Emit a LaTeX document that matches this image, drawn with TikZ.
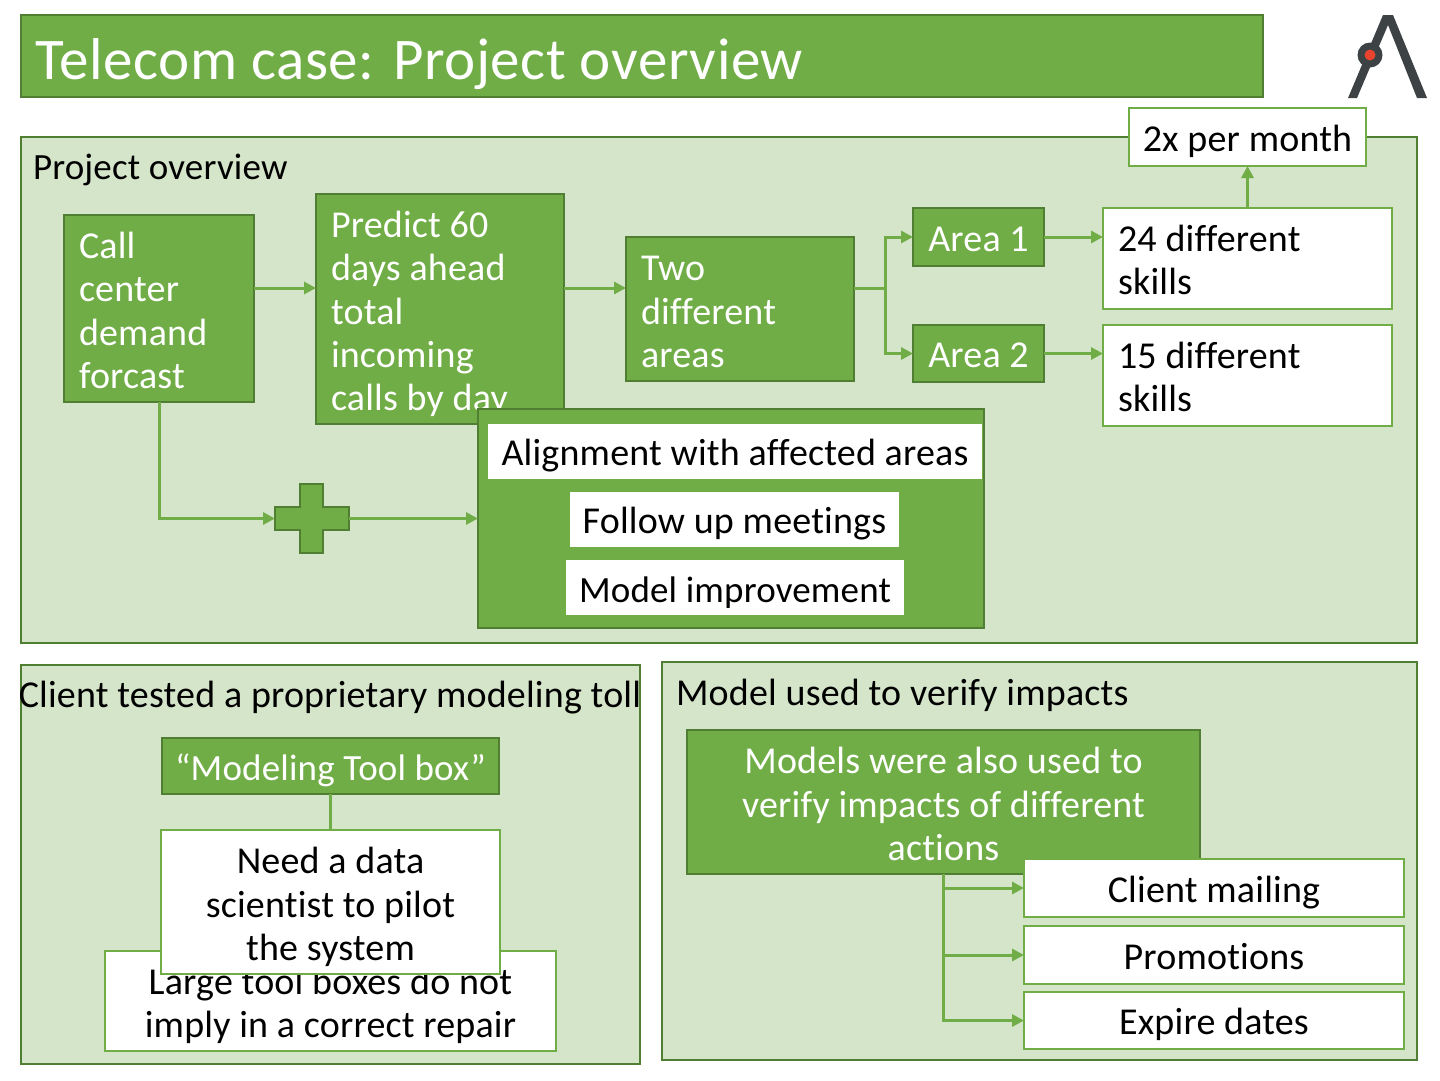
\documentclass[tikz,border=0pt]{standalone}
\usepackage{fontspec}
\setmainfont{Carlito}[LetterSpace=0.5,Ligatures=NoCommon]
\newfontfamily\titlefam{Carlito}[LetterSpace=1,Ligatures=NoCommon]
\usetikzlibrary{arrows.meta}
\definecolor{gfill}{HTML}{70AD47}
\definecolor{gedge}{HTML}{507E32}
\definecolor{pfill}{HTML}{D4E5C9}
\definecolor{arrowc}{HTML}{70AD47}
\definecolor{logoc}{HTML}{3D4245}
\definecolor{logor}{HTML}{E8432E}
\newcommand{\bodyfont}{\fontsize{38}{43.3}\selectfont}
\newcommand{\tighter}{\fontsize{37}{43.3}\selectfont}
\newcommand{\titlefont}{\titlefam\fontsize{59}{60}\selectfont}
\newcommand{\dn}[2][6]{\raisebox{-#1pt}[\height][\depth]{#2}}
\newcommand{\lpar}[3][5]{\dn[#1]{\parbox{#2}{\raggedright #3}}}
\newcommand{\cpar}[3][5]{\dn[#1]{\parbox{#2}{\centering #3}}}
\tikzset{
  x=1pt,y=-1pt,
  base/.style={line width=2pt,inner sep=0pt,outer sep=0pt,anchor=center},
  gbox/.style={base,draw=gedge,fill=gfill,text=white,font=\bodyfont},
  wbox/.style={base,draw=gfill,fill=white,text=black,font=\bodyfont},
  plain/.style={base,fill=white,text=black,font=\bodyfont},
  panel/.style={base,draw=gedge,fill=pfill},
  label/.style={inner sep=0pt,outer sep=0pt,text=black,font=\bodyfont},
  conn/.style={draw=arrowc,line width=3pt,-{Triangle[length=12pt,width=12pt]}},
  line/.style={draw=arrowc,line width=3pt},
  sz/.style 2 args={minimum width=#1,minimum height=#2}
}
\begin{document}
\begin{tikzpicture}
\useasboundingbox (0,0) rectangle (1440,1080);
\fill[white] (0,0) rectangle (1440,1080);
% title
\node[gbox,sz={1242pt}{82pt}] (title) at (642,56) {};
\node[anchor=west,inner sep=0pt,text=white,font=\titlefont] (titletext) at (35,67) {\strut Telecom case: Project overview};
% logo
\fill[logoc] (1383,15) -- (1393,15) -- (1427,98) -- (1417,98) -- (1388,25) -- (1357,98) -- (1348,98) -- cycle;
\node[base,circle,fill=logoc,minimum size=25pt,line width=0pt] (logodot) at (1370,55) {};
\node[base,circle,fill=logor,minimum size=11pt,line width=0pt] (logored) at (1370,55) {};
% panels
\node[panel,sz={1396pt}{506pt}] (p1) at (719,390) {};
\node[panel,sz={619pt}{399pt}] (p2) at (330.5,864.5) {};
\node[panel,sz={755pt}{398pt}] (p3) at (1039.5,861) {};
\node[label,anchor=west] (p1t) at (33,171) {\tighter\strut Project overview};
\node[label] (p2t) at (330,699) {\strut Client tested a proprietary modeling toll};
\node[label,anchor=west] (p3t) at (676,697) {\strut Model used to verify impacts};
% top row
\coordinate (row) at (0,288);
\node[wbox,sz={237pt}{58pt}] (twox) at (1247.5,137) {\dn{\strut 2x per month}};
\node[gbox,sz={190pt}{187pt}] (call) at (159,308.5) {\lpar[2]{160pt}{Call\\center\\demand\\forcast}};
\node[gbox,sz={248pt}{230pt}] (predict) at (440,309) {\lpar[5]{218pt}{Predict 60\\days ahead\\total\\incoming\\calls by day}};
\node[gbox,sz={228pt}{144pt}] (two) at (740,309) {\lpar[3]{198pt}{Two\\different\\areas}};
\node[gbox,sz={131pt}{58pt}] (a1) at (978.5,237) {\dn[6]{\strut Area 1}};
\node[gbox,sz={131pt}{57pt}] (a2) at (978.5,353.5) {\dn[5]{\strut Area 2}};
\node[wbox,sz={289pt}{101pt}] (s24) at (1247.5,258.5) {\lpar[1.5]{259pt}{24 different\\skills}};
\node[wbox,sz={289pt}{101pt}] (s15) at (1247.5,375.5) {\lpar[1.5]{259pt}{15 different\\skills}};
% big block
\node[gbox,sz={506pt}{219pt}] (big) at (731,518.5) {};
\node[plain,sz={494pt}{55pt}] (align) at (735,451.5) {\dn[5]{\strut Alignment with affected areas}};
\node[plain,sz={329pt}{55pt}] (follow) at (734.5,519.5) {\dn[5]{\strut Follow up meetings}};
\node[plain,sz={338pt}{55pt}] (model) at (735,587.5) {\dn[6.5]{\tighter\strut Model improvement}};
% plus
\node[base,sz={74pt}{69pt}] (plus) at (312,518.5) {};
\draw[gedge,fill=gfill,line width=2pt] (300,484) -- (323,484) -- (323,507) -- (349,507) -- (349,530) -- (323,530) -- (323,553) -- (300,553) -- (300,530) -- (275,530) -- (275,507) -- (300,507) -- cycle;
% connectors top
\draw[conn] (call.east |- row) -- (predict.west |- row);
\draw[conn] (predict.east |- row) -- (two.west |- row);
\draw[conn] (two.east |- row) -| ++(31,0) |- (a1.west);
\draw[conn] (two.east |- row) -| ++(31,0) |- (a2.west);
\draw[conn] (a1.east) -- (s24.west |- a1.east);
\draw[conn] (a2.east) -- (s15.west |- a2.east);
\draw[conn] (s24.north) -- (twox.south);
\draw[conn] (call.south) |- (plus.west);
\draw[conn] (plus.east) -- (big.west);
% lower left
\node[wbox,sz={451pt}{100pt}] (large) at (330.5,1001) {\cpar[5]{451pt}{Large tool boxes do not\\imply in a correct repair}};
\node[gbox,sz={337pt}{56pt}] (tool) at (330.5,766) {\dn[6]{\tighter\strut “Modeling Tool box”}};
\node[wbox,sz={339pt}{144pt}] (need) at (330.5,902) {\cpar[5]{339pt}{Need a data\\scientist to pilot\\the system}};
\draw[line] (tool.south) -- (need.north);
% lower right
\node[gbox,sz={513pt}{144pt}] (models) at (943.5,802) {\cpar[2]{513pt}{Models were also used to\\verify impacts of different\\actions}};
\node[wbox,sz={380pt}{58pt}] (mail) at (1214,888) {\dn[6]{\strut Client mailing}};
\node[wbox,sz={380pt}{58pt}] (promo) at (1214,955) {\dn[6]{\strut Promotions}};
\node[wbox,sz={380pt}{57pt}] (expire) at (1214,1020.5) {\dn[5]{\strut Expire dates}};
\draw[conn] (models.south) |- (mail.west);
\draw[conn] (models.south) |- (promo.west);
\draw[conn] (models.south) |- (expire.west);
\end{tikzpicture}
\end{document}
